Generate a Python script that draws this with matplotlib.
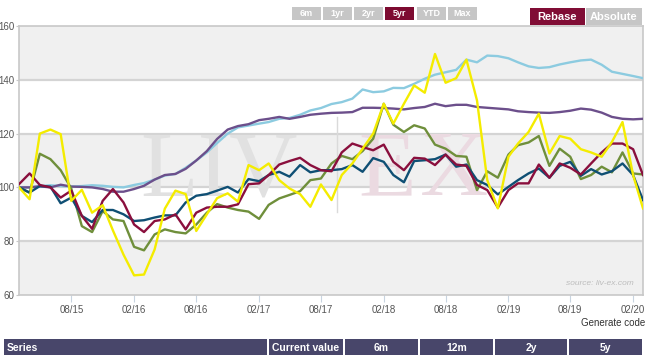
import matplotlib
matplotlib.use("Agg")
import matplotlib.pyplot as plt
import matplotlib.dates as mdates
from matplotlib.patches import Rectangle
import pandas as pd

plt.rcParams['font.family'] = ['Liberation Sans', 'DejaVu Sans']

W, H = 650, 355

# monthly points, Mar 2015 .. Mar 2020 (rebased to 100)
dates = pd.date_range("2015-03-01", "2020-03-01", freq="MS")

light_blue = [100, 100, 100.5, 100.8, 100.5, 100.3, 100.5, 100.8, 100.6, 100.2,
              100, 100.9, 101.6, 102.9, 104.4, 105, 107.3, 110, 113, 116.5,
              120, 122.3, 123, 123.7, 124.3, 125.5, 125.8, 127, 128.6, 129.5,
              131, 131.7, 133, 136.4, 135.4, 135.7, 137, 136.9, 138.5, 140.4,
              141.9, 142.8, 143.7, 147.5, 146.5, 149, 148.8, 148, 146.5, 145,
              144.4, 144.7, 145.7, 146.5, 147.2, 147.5, 145.6, 143, 142.2, 141.4,
              140.6]
purple = [100, 100, 100.4, 100, 101, 100.3, 100.2, 100, 99.4, 98.4,
          98.4, 99.4, 100.6, 102.9, 104.6, 105, 106.9, 110, 113.5, 118,
          121.5, 122.8, 123.5, 125, 125.5, 126.2, 125.5, 126.2, 127, 127.4,
          127.7, 127.8, 128, 129.6, 129.6, 129.5, 129.3, 129, 129.5, 129.9,
          131.1, 130.2, 130.7, 130.7, 129.9, 129.6, 129.3, 129, 128.3, 128,
          127.8, 127.7, 128, 128.5, 129.3, 128.9, 127.8, 126.2, 125.5, 125.3,
          125.5]
maroon = [101.2, 105.2, 100.9, 100, 96.2, 98.8, 89.4, 84.6, 95, 99.4,
          94.4, 86.2, 83.4, 87.5, 88.1, 90, 84.4, 90.6, 92.5, 92.8,
          92.8, 93.7, 101.2, 101.5, 104.6, 108.5, 109.8, 111, 108.3, 106.4,
          106, 113, 116.3, 115, 113.8, 115.9, 109.5, 106.4, 111, 110.7,
          108.3, 112.2, 108.5, 108, 100.9, 99, 92.5, 99, 101.5, 101.5,
          108.5, 103.6, 108.9, 107.3, 104.8, 108.9, 113, 116.3, 116.3, 114.2,
          104.6]
teal = [100, 98.1, 100.5, 100.3, 94.1, 96.2, 89.4, 87.1, 91.6, 91.6,
        90, 87.5, 87.8, 88.8, 89.6, 89.6, 94.4, 96.9, 97.5, 98.8,
        100.2, 98.1, 103.1, 102.3, 104.6, 105.8, 104, 108.3, 105.6, 106.4,
        106.4, 106.8, 108.3, 105.8, 110.9, 109.5, 104.6, 101.9, 109.8, 110.1,
        110.5, 112.2, 107.7, 108.5, 102.7, 100.9, 97.4, 100.2, 102.7, 105.2,
        107, 103.6, 108, 109.5, 104.3, 106.8, 104.8, 106, 108.9, 104.6,
        95.3]
green = [100, 98, 112.5, 110.5, 106.4, 99.6, 85.6, 83.4, 91.2, 88.1,
         87.5, 77.9, 76.6, 82.5, 84.4, 83.4, 82.9, 86.2, 90.6, 93.8,
         92.5, 91.6, 91, 88.3, 93.5, 95.9, 97.2, 98.6, 102.7, 103.3,
         108.9, 111.7, 110.5, 113.5, 118.1, 131.1, 123.3, 120.6, 123.1, 121.9,
         115.9, 114.4, 111.7, 111.4, 99, 106, 103.6, 112.2, 115.7, 116.7,
         119.1, 108, 114.4, 111.4, 103.1, 104.6, 107.7, 105.6, 113, 105.2,
         104.8]
yellow = [100, 95.6, 120, 121.5, 119.8, 95, 99.1, 90.6, 93.4, 84,
          75, 67.3, 67.6, 76.9, 92.1, 98.8, 97.5, 83.8, 90, 96,
          97.8, 94.7, 108.3, 106.4, 108.9, 102.7, 99.6, 97.5, 92.8, 101.1,
          95.3, 104.6, 108.9, 114.4, 120, 131.1, 123.7, 131.1, 137.9, 135.2,
          149.6, 138.9, 140.6, 147.5, 132.3, 102.7, 92.2, 111.4, 116.3, 120.6,
          127.4, 112.6, 119.1, 118.1, 114.2, 113, 111.4, 116.9, 124.3, 104.6,
          92.2]

series = [
    (light_blue, '#8ccbe0'),
    (purple, '#6c4f8b'),
    (green, '#6f8f3b'),
    (teal, '#0f4f74'),
    (maroon, '#8a0f3d'),
    (yellow, '#f4ec00'),
]

period_buttons = ["6m", "1yr", "2yr", "5yr", "YTD", "Max"]
table_cols = ["Series", "Current value", "6m", "12m", "2y", "5y"]

NARROW = ['Liberation Sans Narrow', 'Liberation Sans']


def fig_rect(x, y, w, h, color):
    # pixel box (top-left origin) -> figure fraction
    return Rectangle((x / W, 1 - (y + h) / H), w / W, h / H,
                     transform=fig.transFigure, facecolor=color,
                     edgecolor='none', zorder=0)


def fig_text(x, y, s, **kw):
    fig.text(x / W, 1 - y / H, s, **kw)


fig = plt.figure(figsize=(W / 100, H / 100), dpi=100)
ax = fig.add_axes([19 / W, 60 / H, 624 / W, 269 / H])

# bands + grid
ax.set_facecolor('white')
for lo in (60, 100, 140):
    ax.axhspan(lo, lo + 20, color='#f0f0f0', zorder=0, lw=0)
for g in (80, 100, 120, 140):
    ax.axhline(g, color='#d4d4d4', lw=1.6, zorder=1)

# watermark
ax.text(0.194, 0.37, "LIV", transform=ax.transAxes, family='Liberation Serif',
        fontsize=68, color='#e1e1e1', zorder=1, va='baseline')
ax.plot([0.51, 0.51], [0.31, 0.66], transform=ax.transAxes, color='#dadada',
        lw=1, zorder=1)
ax.text(0.543, 0.37, "E", transform=ax.transAxes, family='Liberation Serif',
        fontsize=68, color='#ebdae1', zorder=1, va='baseline')
ax.text(0.643, 0.37, "X", transform=ax.transAxes, family='Liberation Serif',
        fontsize=68, color='#ebdae1', zorder=1, va='baseline')

for vals, col in series:
    ax.plot(dates, vals, color=col, lw=1.7, zorder=3)

ax.set_xlim(dates[0], dates[-1])
ax.set_ylim(60, 160)
ax.set_yticks([60, 80, 100, 120, 140, 160])
ax.xaxis.set_major_locator(mdates.MonthLocator(bymonth=[2, 8]))
ax.xaxis.set_major_formatter(mdates.DateFormatter('%m/%y'))
ax.tick_params(axis='x', length=5, width=0.8, color='#c8d4e0',
               labelsize=7, labelcolor='#555555', pad=2)
ax.tick_params(axis='y', length=2, width=0.8, color='#c8c8c8',
               labelsize=7, labelcolor='#555555', pad=1)
for lab in ax.get_yticklabels():
    lab.set_family(NARROW)
for sp in ax.spines.values():
    sp.set_color('#c8c8c8')
    sp.set_linewidth(1.2)

ax.text(0.985, 0.03, "source: liv-ex.com", transform=ax.transAxes,
        ha='right', va='bottom', fontsize=6, style='italic', color='#bdbdbd')

# period buttons
bx = [292, 323, 354, 385, 417, 448]
for x, lab in zip(bx, period_buttons):
    active = lab == "5yr"
    fig.patches.append(fig_rect(x, 7, 29, 13, '#7d0b31' if active else '#c6c6c6'))
    fig_text(x + 14.5, 13.5, lab, ha='center', va='center', fontsize=6.5,
             color='white', weight='bold', family=NARROW)

# rebase / absolute
fig.patches.append(fig_rect(530, 8, 55, 17, '#800d35'))
fig.patches.append(fig_rect(586, 8, 56, 17, '#c6c6c6'))
fig_text(557.5, 17, "Rebase", ha='center', va='center', fontsize=8,
         color='white', weight='bold', family=NARROW)
fig_text(614, 17, "Absolute", ha='center', va='center', fontsize=8,
         color='white', weight='bold', family=NARROW)

fig_text(645, 323, "Generate code", ha='right', va='center', fontsize=7,
         color='#333333')

# table header
edges = [3, 268, 344, 419, 494, 568, 643]
for i, lab in enumerate(table_cols):
    x0, x1 = edges[i], edges[i + 1]
    fig.patches.append(fig_rect(x0 + 1, 339, x1 - x0 - 2, 16, '#48466a'))
    if i == 0:
        fig_text(x0 + 4, 348, lab, ha='left', va='center', fontsize=7.5,
                 color='white', weight='bold', family=NARROW)
    else:
        fig_text((x0 + x1) / 2, 348, lab, ha='center', va='center',
                 fontsize=7.5, color='white', weight='bold', family=NARROW)

fig.savefig("out.png", dpi=100)
